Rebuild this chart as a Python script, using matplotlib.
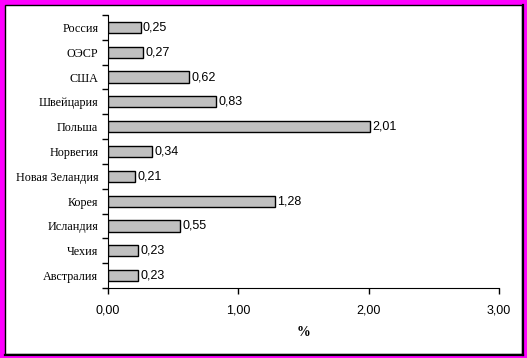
import matplotlib.pyplot as plt
from matplotlib.patches import Rectangle
from matplotlib.lines import Line2D
import numpy as np

# данные (сверху вниз)
countries = ["Россия", "ОЭСР", "США", "Швейцария", "Польша", "Норвегия",
             "Новая Зеландия", "Корея", "Исландия", "Чехия", "Австралия"]
values = [0.25, 0.27, 0.62, 0.83, 2.01, 0.34, 0.21, 1.28, 0.55, 0.23, 0.23]
xticks = [0, 1, 2, 3]

num_font = ["Liberation Sans Narrow", "Liberation Sans", "DejaVu Sans"]
txt_font = ["Liberation Serif", "DejaVu Serif"]

W, H = 527, 358
fig = plt.figure(figsize=(W / 100, H / 100), dpi=100)
fig.patch.set_facecolor("#ff00ff")

# белая рамка с чёрным контуром (справа и снизу толще — "тень")
fig.patches.append(Rectangle((5 / W, 4 / H), 517 / W, 349 / H,
                             transform=fig.transFigure, facecolor="white",
                             edgecolor="black", linewidth=1, zorder=-2))
fig.lines.append(Line2D([522.5 / W, 522.5 / W], [3 / H, 353.5 / H],
                        transform=fig.transFigure, color="black", lw=1.6, zorder=-1))
fig.lines.append(Line2D([5 / W, 523 / W], [3.5 / H, 3.5 / H],
                        transform=fig.transFigure, color="black", lw=1.6, zorder=-1))

ax = fig.add_axes([108 / W, (H - 288) / H, 391 / W, 273 / H])
ax.set_facecolor("none")

y = np.arange(len(countries))
ax.barh(y, values, height=0.45, color="#c0c0c0", edgecolor="black", linewidth=1)

for yi, v in zip(y, values):
    ax.text(v + 0.018, yi, f"{v:.2f}".replace(".", ","), va="center", ha="left",
            fontsize=9, family=num_font)

ax.set_xlim(0, 3)
ax.set_ylim(len(countries) - 0.5, -0.5)

ax.set_xticks(xticks)
ax.set_xticklabels([f"{t:.2f}".replace(".", ",") for t in xticks],
                   fontsize=9, family=num_font)
ax.tick_params(axis="x", direction="out", length=4, width=1, pad=8)

ax.set_yticks(np.arange(len(countries) + 1) - 0.5)
ax.set_yticklabels([])
ax.set_yticks(y, minor=True)
ax.set_yticklabels(countries, minor=True, fontsize=8.7, family=txt_font)
ax.tick_params(axis="y", which="major", direction="out", length=4, width=1)
ax.tick_params(axis="y", which="minor", length=0, pad=7)

ax.spines["top"].set_visible(False)
ax.spines["right"].set_visible(False)

ax.set_xlabel("%", fontsize=10, fontweight="bold", family=txt_font, labelpad=7)

fig.savefig("out.png", dpi=100, facecolor=fig.get_facecolor())
